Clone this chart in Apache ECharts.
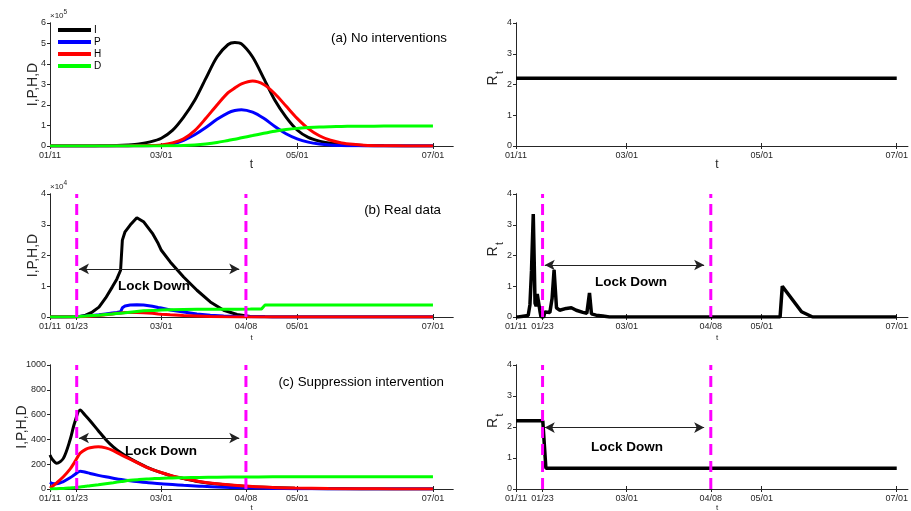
<!DOCTYPE html>
<html>
<head>
<meta charset="utf-8">
<script src="https://cdn.jsdelivr.net/npm/echarts@6/dist/echarts.min.js"></script>
<style>
html, body { margin: 0; padding: 0; background: #fff; }
#chart { width: 911px; height: 511px; }
</style>
</head>
<body>
<div id="chart"></div>
<script>
// Time axis: day 0 = 01/11, day 172 = 07/01
const tickDaysA = [0, 50, 111, 172];
const tickDaysLock = [0, 12, 50, 88, 111, 172];
const tickNames = { 0: '01/11', 12: '01/23', 50: '03/01', 88: '04/08', 111: '05/01', 172: '07/01' };
const lockdownDays = [12, 88];
const arrowDays = [13, 85];
const seriesNames = ['I', 'P', 'H', 'D'];

// (a) No interventions
const daysA = [0,10,20,25,30,35,40,45,50,55,60,65,70,75,80,83,86,91,96,101,106,111,116,121,126,131,136,141,150,160,172];
const aI = [0,0,500,1000,2000,5000,10000,20000,38000,76000,141000,223000,330000,434000,495000,505000,498000,434000,330000,223000,141000,78000,42000,24000,14000,8000,4500,2500,1000,300,0];
const aP = [0,0,0,0,200,500,1000,1800,3000,10000,28000,55000,90000,130000,162000,173000,177000,165000,135000,95000,60000,35000,19000,10000,5000,2500,1200,600,200,0,0];
const aH = [0,0,0,0,200,500,1000,2000,5000,15000,35000,75000,135000,200000,260000,283000,303000,317000,300000,255000,195000,135000,85000,50000,28000,15000,8000,4000,1500,500,0];
const aD = [0,0,0,0,0,0,100,300,600,1000,2000,5000,10000,17000,27000,33000,40000,51000,62000,72000,80000,86000,90000,93000,94500,95500,96000,96500,97000,97000,97000];
const rtDaysA = [0, 172];
const rtA = [2.2, 2.2];

// (b) Real data
const daysB = [0,5,10,13,16,19,22,25,28,30,31.7,32.5,33.7,36,39,42,46,48.6,50,54,60,66,72,78,84,90,95,96.5,100,110,120,140,160,172];
const bI = [0,0,0,100,600,1600,3200,6200,9800,12300,15200,25000,27700,29900,32300,31000,27200,23900,21700,17900,13000,8700,4900,2200,800,200,100,50,0,0,0,0,0,0];
const bP = [0,0,50,150,300,500,700,1000,1300,1500,1700,3000,3600,3900,4000,3900,3500,3100,2900,2300,1600,1000,600,350,200,100,60,50,30,10,0,0,0,0];
const bH = [0,0,20,50,150,300,500,750,1000,1200,1300,1400,1450,1500,1500,1400,1200,1000,900,700,450,300,150,80,40,20,10,10,0,0,0,0,0,0];
const bD = [0,0,100,200,300,450,600,800,1000,1150,1250,1300,1350,1550,1800,2000,2150,2200,2250,2350,2420,2480,2520,2540,2560,2570,2580,3870,3870,3870,3870,3870,3870,3870];
const rtDaysB = [0,1,5.5,6.3,7,7.8,8.6,9.1,9.6,10.3,10.8,11.3,12.5,13,13.8,15.3,16.3,17.2,18.3,19.7,22.7,25,27.2,30.2,32,33.2,34.1,36.2,39.2,42.2,119.3,120.3,129,134,172];
const rtB = [0,0,0.05,0.4,1.5,3.35,0.45,0.35,0.75,0.7,0.2,0,0,0.16,0.2,0.15,0.6,1.53,0.3,0.22,0.28,0.3,0.22,0.15,0.12,0.78,0.1,0.06,0.03,0,0,1.0,0.17,0,0];

// (c) Suppression intervention
const daysC = [0,1,3,6,9,11,13.5,16,18,21.7,25,28.4,32,36,40,43.4,47,51,55,60,67,75,87,100,110,125,140,155,172];
const cI = [274,240,207,247,395,530,637,590,550,470,400,340,290,245,207,176,150,126,104,84,59,41,23,12,7,3,1,0,0];
const cP = [55,45,42,60,90,115,143,135,125,110,98,87,76,66,58,52,46,41,36,30,23,16,10,5,3,1,0,0,0];
const cH = [6,20,50,99,160,215,288,320,333,341,332,310,275,240,205,175,150,127,105,85,60,42,24,13,8,4,2,1,0];
const cD = [0,1,3,5,9,12,16,22,27,35,43,51,60,70,76,80,84,87,89,91,93,95,97,98,98,99,99,99,99];
const rtDaysC = [0, 12.1, 13.5, 172];
const rtC = [2.2, 2.2, 0.67, 0.67];

// Lock-down arrow heights (in each panel's own units)
const arrowLevels = { b: 15650, c: 411, rb: 1.69, rc: 1.98 };

const FONT = '"Liberation Sans", Arial, Helvetica, sans-serif';
const AXIS_COLOR = '#262626';
const COLORS = { I: '#000000', P: '#0000ff', H: '#ff0000', D: '#00ff00' };

const grids = [
  { left: 50,  top: 23,  width: 403, height: 123 },
  { left: 516, top: 23,  width: 394, height: 123 },
  { left: 50,  top: 194, width: 403, height: 123 },
  { left: 516, top: 194, width: 394, height: 123 },
  { left: 50,  top: 365, width: 403, height: 124 },
  { left: 516, top: 365, width: 394, height: 124 }
];
const xMax = [181, 177, 181, 177, 181, 177];
const xTicks = [tickDaysA, tickDaysA, tickDaysLock, tickDaysLock, tickDaysLock, tickDaysLock];
const yMax = [600000, 4, 40000, 4, 1000, 4];
const yStep = [100000, 1, 10000, 1, 200, 1];
const yFmt = [v => String(v / 1e5), v => String(v), v => String(v / 1e4), v => String(v), v => String(v), v => String(v)];

const xAxis = [], yAxis = [];
for (let g = 0; g < 6; g++) {
  xAxis.push({
    type: 'value', gridIndex: g, min: 0, max: xMax[g], position: 'bottom',
    axisLine: { show: true, lineStyle: { color: AXIS_COLOR, width: 1 } },
    axisTick: { show: true, inside: true, length: 3, customValues: xTicks[g], lineStyle: { color: AXIS_COLOR } },
    axisLabel: { show: true, customValues: xTicks[g], formatter: v => tickNames[v] || '', fontSize: 9, fontFamily: FONT, color: AXIS_COLOR, margin: 5 },
    splitLine: { show: false }
  });
}
for (let g = 0; g < 6; g++) {
  xAxis.push({
    type: 'value', gridIndex: g, min: 0, max: xMax[g], position: 'top',
    axisLine: { show: true, lineStyle: { color: AXIS_COLOR, width: 1 } },
    axisTick: { show: true, inside: true, length: 3, customValues: xTicks[g], lineStyle: { color: AXIS_COLOR } },
    axisLabel: { show: false },
    splitLine: { show: false }
  });
}
for (let g = 0; g < 6; g++) {
  yAxis.push({
    type: 'value', gridIndex: g, min: 0, max: yMax[g], interval: yStep[g], position: 'left',
    axisLine: { show: true, lineStyle: { color: AXIS_COLOR, width: 1 } },
    axisTick: { show: true, inside: false, length: 3, lineStyle: { color: AXIS_COLOR } },
    axisLabel: { show: true, formatter: yFmt[g], fontSize: 9, fontFamily: FONT, color: AXIS_COLOR, margin: 4 },
    splitLine: { show: false }
  });
}
for (let g = 0; g < 6; g++) {
  yAxis.push({
    type: 'value', gridIndex: g, min: 0, max: yMax[g], interval: yStep[g], position: 'right',
    axisLine: { show: true, lineStyle: { color: AXIS_COLOR, width: 1 } },
    axisTick: { show: true, inside: true, length: 3, lineStyle: { color: AXIS_COLOR } },
    axisLabel: { show: false },
    splitLine: { show: false }
  });
}

function zip(xs, ys) { return xs.map((x, i) => [x, ys[i]]); }

function curve(g, name, xs, ys, smooth, width) {
  return {
    type: 'line', name: name, xAxisIndex: g, yAxisIndex: g,
    data: zip(xs, ys), showSymbol: false, symbol: 'none', smooth: smooth,
    lineStyle: { color: COLORS[name] || '#000', width: width || 3 },
    itemStyle: { color: COLORS[name] || '#000' },
    silent: true, z: 3
  };
}

function lockLine(g, day, top, arrowLevel) {
  const s = {
    type: 'line', xAxisIndex: g, yAxisIndex: g,
    data: [[day, 0], [day, top]], showSymbol: false, symbol: 'none',
    lineStyle: { color: '#ff00ff', width: 3, type: [11, 6] },
    silent: true, z: 4
  };
  if (arrowLevel !== undefined) {
    s.markLine = {
      silent: true, symbol: ['arrow', 'arrow'], symbolSize: [8, 10],
      label: { show: false },
      lineStyle: { color: '#222', width: 1, type: 'solid' },
      itemStyle: { color: '#000' },
      data: [[{ coord: [arrowDays[0], arrowLevel] }, { coord: [arrowDays[1], arrowLevel] }]]
    };
  }
  return s;
}

const series = [
  curve(0, 'I', daysA, aI, 0.3), curve(0, 'P', daysA, aP, 0.3), curve(0, 'H', daysA, aH, 0.3), curve(0, 'D', daysA, aD, 0.3),
  curve(1, 'Rt', rtDaysA, rtA, false, 3.5),
  curve(2, 'I', daysB, bI, false), curve(2, 'P', daysB, bP, false), curve(2, 'H', daysB, bH, false), curve(2, 'D', daysB, bD, false),
  lockLine(2, lockdownDays[0], yMax[2], arrowLevels.b), lockLine(2, lockdownDays[1], yMax[2]),
  curve(3, 'Rt', rtDaysB, rtB, false, 3.5),
  lockLine(3, lockdownDays[0], yMax[3], arrowLevels.rb), lockLine(3, lockdownDays[1], yMax[3]),
  curve(4, 'I', daysC, cI, 0.3), curve(4, 'P', daysC, cP, 0.3), curve(4, 'H', daysC, cH, 0.3), curve(4, 'D', daysC, cD, 0.3),
  lockLine(4, lockdownDays[0], yMax[4], arrowLevels.c), lockLine(4, lockdownDays[1], yMax[4]),
  curve(5, 'Rt', rtDaysC, rtC, false, 3.5),
  lockLine(5, lockdownDays[0], yMax[5], arrowLevels.rc), lockLine(5, lockdownDays[1], yMax[5])
];

function txt(x, y, text, size, o) {
  o = o || {};
  return {
    type: 'text', x: x, y: y, rotation: o.rot || 0, silent: true, z: 10,
    style: {
      text: text, fontSize: size, fontFamily: FONT, fill: o.color || '#000',
      align: o.align || 'center', verticalAlign: 'middle', fontWeight: o.bold ? 'bold' : 'normal'
    }
  };
}

const mids = grids.map(g => g.top + g.height / 2);
const graphic = [
  // y-axis names
  txt(33, mids[0], 'I,P,H,D', 14, { rot: Math.PI / 2, color: AXIS_COLOR }),
  txt(33, mids[2], 'I,P,H,D', 14, { rot: Math.PI / 2, color: AXIS_COLOR }),
  txt(22, mids[4], 'I,P,H,D', 14, { rot: Math.PI / 2, color: AXIS_COLOR }),
  txt(493, mids[1] - 4, 'R', 14, { rot: Math.PI / 2, color: AXIS_COLOR }),
  txt(500, mids[1] - 12, 't', 10, { rot: Math.PI / 2, color: AXIS_COLOR }),
  txt(493, mids[3] - 4, 'R', 14, { rot: Math.PI / 2, color: AXIS_COLOR }),
  txt(500, mids[3] - 12, 't', 10, { rot: Math.PI / 2, color: AXIS_COLOR }),
  txt(493, mids[5] - 4, 'R', 14, { rot: Math.PI / 2, color: AXIS_COLOR }),
  txt(500, mids[5] - 12, 't', 10, { rot: Math.PI / 2, color: AXIS_COLOR }),
  // x-axis names
  txt(251.5, 165, 't', 12, { color: AXIS_COLOR }),
  txt(717, 165, 't', 12, { color: AXIS_COLOR }),
  txt(251.5, 338, 't', 8, { color: AXIS_COLOR }),
  txt(717, 338, 't', 8, { color: AXIS_COLOR }),
  txt(251.5, 508, 't', 8, { color: AXIS_COLOR }),
  txt(717, 508, 't', 8, { color: AXIS_COLOR }),
  // axis exponents
  txt(50, 16, '×10', 8, { align: 'left', color: AXIS_COLOR }),
  txt(63.5, 12, '5', 6.5, { align: 'left', color: AXIS_COLOR }),
  txt(50, 187, '×10', 8, { align: 'left', color: AXIS_COLOR }),
  txt(63.5, 183, '4', 6.5, { align: 'left', color: AXIS_COLOR }),
  // panel titles
  txt(447, 38, '(a) No interventions', 13.3, { align: 'right' }),
  txt(441, 210, '(b) Real data', 13.3, { align: 'right' }),
  txt(444, 382, '(c) Suppression intervention', 13.3, { align: 'right' }),
  // lock-down notes
  txt(154, 286, 'Lock Down', 13.5, { bold: true }),
  txt(631, 282, 'Lock Down', 13.5, { bold: true }),
  txt(161, 451, 'Lock Down', 13.5, { bold: true }),
  txt(627, 447, 'Lock Down', 13.5, { bold: true })
];

const chart = echarts.init(document.getElementById('chart'), null, { renderer: 'canvas' });
chart.setOption({
  animation: false,
  backgroundColor: '#ffffff',
  grid: grids,
  xAxis: xAxis,
  yAxis: yAxis,
  legend: {
    data: seriesNames, left: 58, top: 24, orient: 'vertical', icon: 'rect',
    itemWidth: 33, itemHeight: 4, itemGap: 0, padding: 0, selectedMode: false,
    textStyle: { fontSize: 10, lineHeight: 12, fontFamily: FONT, color: '#000', padding: [0, 0, 0, -2] }
  },
  series: series,
  graphic: graphic
});
</script>
</body>
</html>
